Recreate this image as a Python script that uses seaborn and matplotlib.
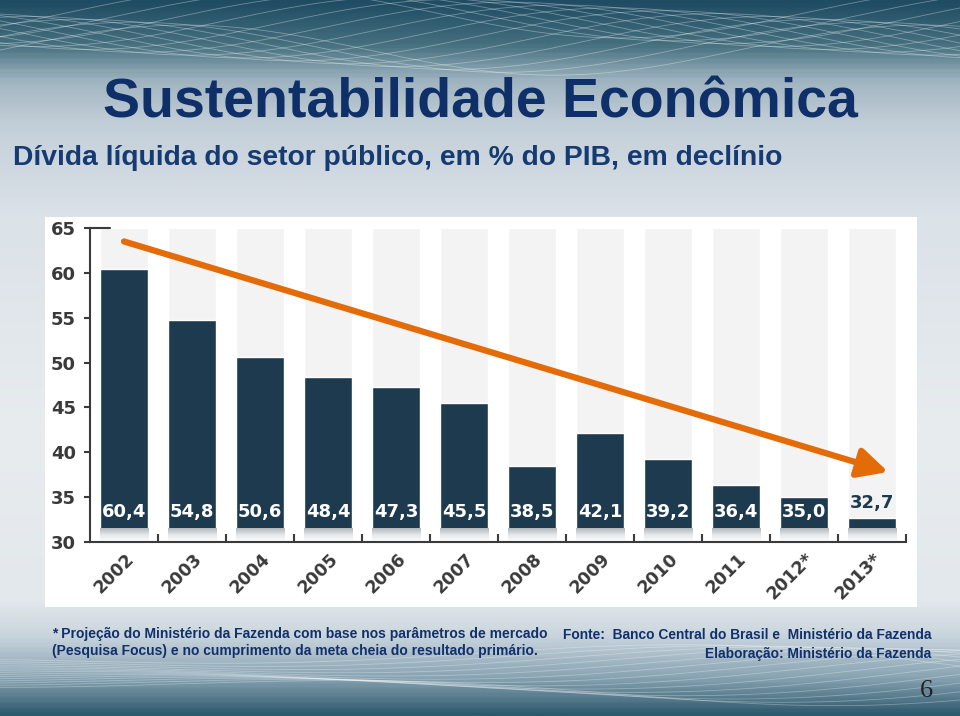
import numpy as np
import pandas as pd
import matplotlib
matplotlib.use("Agg")
import matplotlib.pyplot as plt
import matplotlib.transforms as mtransforms
from matplotlib.colors import LinearSegmentedColormap
from matplotlib.patches import Rectangle
import seaborn as sns

# Dados do gráfico
anos = ['2002', '2003', '2004', '2005', '2006', '2007', '2008', '2009', '2010', '2011', '2012*', '2013*']
divida = [60.4, 54.8, 50.6, 48.4, 47.3, 45.5, 38.5, 42.1, 39.2, 36.4, 35.0, 32.7]
rotulos = [f"{v:.1f}".replace('.', ',') for v in divida]
yticks = [30, 35, 40, 45, 50, 55, 60, 65]

# Seta de tendência (início e fim em coordenadas dos dados)
seta_inicio = (0.0, 63.5)
seta_fim = (11.24, 37.8)

base = 31.45      # onde as barras começam (acima do eixo)
topo = 65

cor_barra = '#1d3a4f'
cor_texto = '#3a3a3a'
cor_titulo = '#0f2f68'
cor_seta = '#e36c09'

sns.set_theme(style="white")
plt.rcParams['font.family'] = ['DejaVu Sans']

fig = plt.figure(figsize=(9.6, 7.16), dpi=100)

# Fundo em degradê
bg = fig.add_axes([0, 0, 1, 1], zorder=-10)
stops = [(0.0, '#1f4c63'), (0.06, '#46707f'), (0.11, '#9fb4c0'), (0.17, '#c3cfd8'),
         (0.30, '#dbe2e8'), (0.60, '#e8ecef'), (0.84, '#e3e8ec'), (0.89, '#c9d5dd'),
         (0.95, '#86a2b1'), (1.0, '#2f5a6d')]
cmap_bg = LinearSegmentedColormap.from_list('bg', stops)
bg.imshow(np.linspace(0, 1, 400).reshape(-1, 1), cmap=cmap_bg, aspect='auto',
          extent=(0, 1, 0, 1), origin='upper')
# linhas da malha decorativa
t = np.linspace(0, 1, 200)
for k in range(14):
    bg.plot(t, 0.93 + 0.035 * np.sin(2 * np.pi * (t * 1.3 + k * 0.07)) + k * 0.004,
            color='white', lw=0.6, alpha=0.35)
    bg.plot(t, 0.04 + 0.03 * np.sin(2 * np.pi * (t * 0.9 + k * 0.05)) * t + k * 0.003,
            color='white', lw=0.6, alpha=0.3)
bg.set_xlim(0, 1)
bg.set_ylim(0, 1)
bg.axis('off')

# Painel branco do gráfico
fig.patches.append(Rectangle((45 / 960, 1 - 607 / 716), 872 / 960, 390 / 716,
                             transform=fig.transFigure, facecolor='white',
                             edgecolor='none', zorder=-5))

# Textos
fonte_txt = ['Liberation Sans', 'DejaVu Sans']
fig.text(0.5, 1 - 118 / 716, 'Sustentabilidade Econômica', ha='center', va='baseline',
         fontsize=40, fontweight='bold', color=cor_titulo, family=fonte_txt)
fig.text(13 / 960, 1 - 165 / 716, 'Dívida líquida do setor público, em % do PIB, em declínio',
         ha='left', va='baseline', fontsize=20.3, fontweight='bold', color='#163a72',
         family=fonte_txt)
nota = ('* Projeção do Ministério da Fazenda com base nos parâmetros de mercado\n'
        '(Pesquisa Focus) e no cumprimento da meta cheia do resultado primário.')
fig.text(52 / 960, 1 - 627 / 716, nota, ha='left', va='top', fontsize=10,
         fontweight='bold', color='#12306a', linespacing=1.3, family=fonte_txt)
fig.text(563 / 960, 1 - 639 / 716, 'Fonte:  Banco Central do Brasil e  Ministério da Fazenda',
         ha='left', va='baseline', fontsize=9.9, fontweight='bold', color='#12306a',
         family=fonte_txt)
fig.text(931 / 960, 1 - 658 / 716, 'Elaboração: Ministério da Fazenda',
         ha='right', va='baseline', fontsize=9.9, fontweight='bold', color='#12306a',
         family=fonte_txt)
fig.text(933 / 960, 1 - 697 / 716, '6', ha='right', va='baseline', fontsize=19,
         color='#222222', family=['Liberation Serif', 'DejaVu Serif'])

# Gráfico de barras
ax = fig.add_axes([90 / 960, 1 - 542 / 716, 816 / 960, 314 / 716])
ax.patch.set_alpha(0)

df = pd.DataFrame({'ano': anos, 'divida': divida})
df['altura'] = df['divida'] - base
df['fundo'] = topo - base

sns.barplot(data=df, x='ano', y='fundo', color='#f3f3f3', width=0.71, bottom=base,
            saturation=1, ax=ax)
n_fundo = len(ax.patches)
sns.barplot(data=df, x='ano', y='altura', color=cor_barra, width=0.71, bottom=base,
            saturation=1, ax=ax)
barras = ax.patches[n_fundo:]

# sombra abaixo das barras
cmap_sombra = LinearSegmentedColormap.from_list('sombra', ['#b4b8bc', '#e6e8ea', '#ffffff'])
for p in barras:
    x0 = p.get_x()
    ax.imshow(np.linspace(0, 1, 50).reshape(-1, 1), cmap=cmap_sombra, aspect='auto',
              extent=(x0, x0 + p.get_width(), 30, base), origin='upper', zorder=1)

# rótulos de valor
for i, (v, r) in enumerate(zip(df['divida'], rotulos)):
    if v - base > 2.5:
        ax.text(i, 33.3, r, ha='center', va='center', color='white',
                fontsize=13, fontweight='bold', zorder=5)
    else:
        ax.text(i, v + 1.6, r, ha='center', va='center', color=cor_barra,
                fontsize=13, fontweight='bold', zorder=5)

# seta de tendência
ax.annotate('', xy=seta_fim, xytext=seta_inicio,
            arrowprops=dict(arrowstyle='-|>,head_length=0.9,head_width=0.45',
                            mutation_scale=20, color=cor_seta, lw=4.5,
                            shrinkA=0, shrinkB=0), zorder=6)

# eixos
ax.set_xlim(-0.5, len(anos) - 0.5)
ax.set_ylim(30, topo)
ax.set_yticks(yticks)
ax.set_yticklabels([str(v) for v in yticks])
ax.set_xticks(range(len(anos)))
ax.set_xticklabels(anos, rotation=45, ha='right', va='center', rotation_mode='anchor')
ax.set_xticks(np.arange(0.5, len(anos), 1), minor=True)
ax.set_xlabel('')
ax.set_ylabel('')
for s in ['top', 'right']:
    ax.spines[s].set_visible(False)
for s in ['left', 'bottom']:
    ax.spines[s].set_color(cor_texto)
    ax.spines[s].set_linewidth(1.5)
ax.tick_params(axis='y', direction='out', length=4, width=1.5, color=cor_texto,
               labelcolor=cor_texto, labelsize=13, pad=6, left=True)
ax.tick_params(axis='x', which='major', length=0, labelcolor=cor_texto,
               labelsize=12.5, pad=10)
ax.tick_params(axis='x', which='minor', direction='in', length=6, width=1.5,
               color=cor_texto, bottom=True)
for lab in ax.get_yticklabels() + ax.get_xticklabels():
    lab.set_fontweight('bold')
desloc = mtransforms.ScaledTranslation(7 / 100, 0, fig.dpi_scale_trans)
for lab in ax.get_xticklabels():
    lab.set_transform(lab.get_transform() + desloc)
ax.axhline(topo, xmin=0, xmax=20 / 816, color=cor_texto, lw=1.5, clip_on=False)

fig.savefig('out.png', dpi=100)
